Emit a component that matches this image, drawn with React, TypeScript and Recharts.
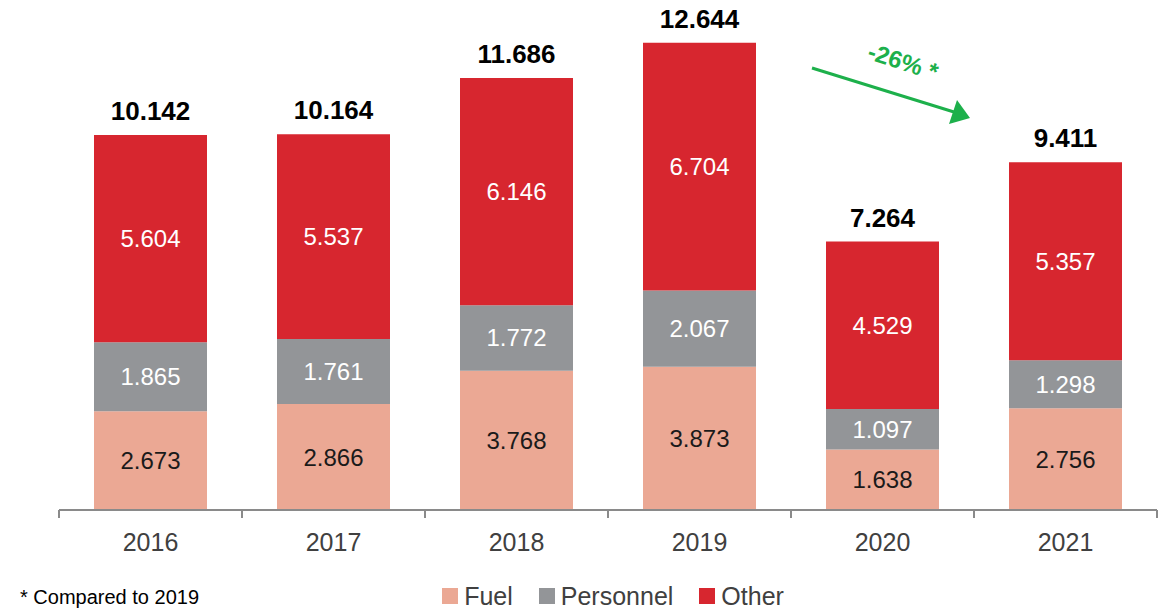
import React from "react";
import { BarChart, Bar, XAxis, YAxis, LabelList, Legend } from "recharts";

const years = ["2016", "2017", "2018", "2019", "2020", "2021"];
const fuel = [2.673, 2.866, 3.768, 3.873, 1.638, 2.756];
const personnel = [1.865, 1.761, 1.772, 2.067, 1.097, 1.298];
const other = [5.604, 5.537, 6.146, 6.704, 4.529, 5.357];
const totals = [10.142, 10.164, 11.686, 12.644, 7.264, 9.411];

const series = [
  { key: "fuel", name: "Fuel", color: "#EBA894", text: "#1a1a1a" },
  { key: "personnel", name: "Personnel", color: "#939598", text: "#ffffff" },
  { key: "other", name: "Other", color: "#D7262F", text: "#ffffff" },
];

const data = years.map((year, i) => ({
  year,
  fuel: fuel[i],
  personnel: personnel[i],
  other: other[i],
  total: totals[i],
}));

const W = 1171;
const H = 611;
const margin = { top: 11, right: 14, left: 59, bottom: 0 };
const halfBand = (W - margin.left - margin.right) / years.length / 2;
const font = "'Liberation Sans', Arial, sans-serif";

const fmt = (v: any) => Number(v).toFixed(3);

function YearTick(props: any) {
  const { x, y, payload, index } = props;
  const last = index === years.length - 1;
  return (
    <g>
      <line x1={x - halfBand} x2={x - halfBand} y1={y - 8} y2={y} stroke="#8a8a8a" strokeWidth={2} />
      {last && (
        <line x1={x + halfBand} x2={x + halfBand} y1={y - 8} y2={y} stroke="#8a8a8a" strokeWidth={2} />
      )}
      <text x={x} y={y + 33} textAnchor="middle" fill="#404040" fontSize={25} fontFamily={font}>
        {payload.value}
      </text>
    </g>
  );
}

function LegendBox() {
  return (
    <div
      style={{
        height: 30,
        display: "flex",
        justifyContent: "center",
        alignItems: "center",
        gap: 26,
        fontFamily: font,
        fontSize: 25,
        color: "#404040",
        paddingLeft: 10,
      }}
    >
      {series.map((s) => (
        <span key={s.key} style={{ display: "flex", alignItems: "center", gap: 6 }}>
          <span style={{ width: 16, height: 16, background: s.color, display: "inline-block" }} />
          {s.name}
        </span>
      ))}
    </div>
  );
}

export default function App() {
  return (
    <div style={{ position: "absolute", left: 0, top: 0, width: W, height: H, overflow: "hidden", background: "#fff" }}>
      <BarChart width={W} height={H} data={data} margin={margin} barSize={113}>
        <XAxis
          dataKey="year"
          height={71}
          axisLine={{ stroke: "#8a8a8a", strokeWidth: 2 }}
          tickLine={false}
          tick={<YearTick />}
          interval={0}
        />
        <YAxis hide domain={[0, 13.5]} />
        <Legend verticalAlign="bottom" content={<LegendBox />} />
        {series.map((s) => (
          <Bar key={s.key} dataKey={s.key} name={s.name} stackId="a" fill={s.color} isAnimationActive={false}>
            <LabelList
              dataKey={s.key}
              position="center"
              formatter={fmt}
              fill={s.text}
              fontSize={24}
              fontFamily={font}
            />
            {s.key === "other" && (
              <LabelList
                dataKey="total"
                position="top"
                offset={15}
                formatter={fmt}
                fill="#000"
                fontSize={26}
                fontWeight="bold"
                fontFamily={font}
              />
            )}
          </Bar>
        ))}
      </BarChart>
      <svg width={W} height={H} style={{ position: "absolute", left: 0, top: 0, pointerEvents: "none" }}>
        <line x1={812} y1={68} x2={954} y2={112} stroke="#1DB04B" strokeWidth={3} />
        <polygon points="970,118 949,124 957,100" fill="#1DB04B" />
        <text
          x={903}
          y={70}
          textAnchor="middle"
          fill="#1DB04B"
          fontSize={24}
          fontWeight="bold"
          fontFamily={font}
          transform="rotate(18 903 62)"
        >
          -26% *
        </text>
      </svg>
      <div style={{ position: "absolute", left: 20, top: 586, fontFamily: font, fontSize: 20, color: "#000" }}>
        * Compared to 2019
      </div>
    </div>
  );
}
